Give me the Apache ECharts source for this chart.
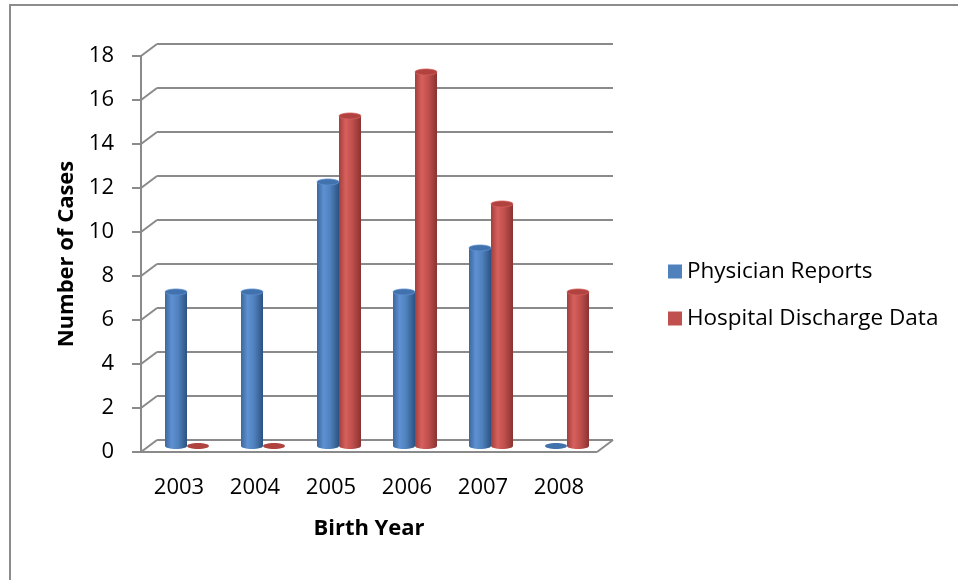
<!DOCTYPE html>
<html>
<head>
<meta charset="utf-8">
<script src="https://cdn.jsdelivr.net/npm/echarts@6/dist/echarts.min.js"></script>
<style>
  html, body { margin: 0; padding: 0; background: #ffffff; }
  #chart { width: 958px; height: 580px; }
</style>
</head>
<body>
<div id="chart"></div>
<script>
// Birth years on the category axis
const years = ['2003', '2004', '2005', '2006', '2007', '2008'];
// Number of cases per source
const physicianReports = [7, 7, 12, 7, 9, 0];
const hospitalDischarge = [0, 0, 15, 17, 11, 7];
// Value axis ticks
const yTicks = [0, 2, 4, 6, 8, 10, 12, 14, 16, 18];

const FONT = '"Open Sans", "Noto Sans", sans-serif';
const GRID_COLOR = '#8a8a8a';
// Depth of the 3D box: offset from the front plane to the back wall
const DX = 16, DY = -12;
const BAR_W = 22;

function cylinder(params, api, side, palette) {
  const i = api.value(0);
  const v = api.value(1);
  const base = api.coord([i, 0]);
  const top = api.coord([i, v]);
  const cx = base[0] + DX / 2 + side * BAR_W / 2;
  const yb = base[1] + DY / 2;
  const yt = top[1] + DY / 2;
  const rx = BAR_W / 2, ry = 3;
  const children = [];
  if (v === 0) {
    children.push({
      type: 'ellipse',
      shape: { cx: cx, cy: yb, rx: rx, ry: ry },
      style: { fill: palette.cap }
    });
  } else {
    const grad = new echarts.graphic.LinearGradient(0, 0, 1, 0, [
      { offset: 0, color: palette.edge },
      { offset: 0.3, color: palette.light },
      { offset: 0.6, color: palette.mid },
      { offset: 1, color: palette.dark }
    ]);
    children.push({
      type: 'ellipse',
      shape: { cx: cx, cy: yb, rx: rx, ry: ry },
      style: { fill: grad }
    });
    children.push({
      type: 'rect',
      shape: { x: cx - rx, y: yt, width: BAR_W, height: yb - yt },
      style: { fill: grad }
    });
    children.push({
      type: 'ellipse',
      shape: { cx: cx, cy: yt, rx: rx, ry: ry },
      style: { fill: palette.cap, stroke: palette.light, lineWidth: 0.8 }
    });
  }
  return { type: 'group', children: children };
}

const bluePalette = { edge: '#3b679e', light: '#5e91d2', mid: '#4f81bd', dark: '#2c5282', cap: '#4272ad' };
const redPalette = { edge: '#a23e3b', light: '#d6605c', mid: '#c0504d', dark: '#8a3331', cap: '#b0433f' };

const chart = echarts.init(document.getElementById('chart'), null, { renderer: 'canvas' });

chart.setOption({
  backgroundColor: '#ffffff',
  animation: false,
  textStyle: { fontFamily: FONT },
  graphic: [{
    type: 'rect',
    shape: { x: 10, y: 5, width: 1000, height: 1000 },
    style: { fill: 'none', stroke: '#8c8c8c', lineWidth: 2 },
    silent: true
  }],
  legend: {
    orient: 'vertical',
    left: 663,
    top: 255,
    itemWidth: 14,
    itemHeight: 14,
    itemGap: 24,
    icon: 'rect',
    data: ['Physician Reports', 'Hospital Discharge Data'],
    textStyle: { fontFamily: FONT, fontSize: 22.5, color: '#000000', lineHeight: 22, padding: [0, 0, 0, 0] }
  },
  grid: { left: 141, top: 56, width: 456, height: 396, containLabel: false },
  xAxis: {
    type: 'category',
    data: years,
    name: 'Birth Year',
    nameLocation: 'middle',
    nameGap: 66,
    nameTextStyle: { fontFamily: FONT, fontSize: 22, fontWeight: 'bold', color: '#000000' },
    axisLine: { show: false },
    axisTick: { show: false },
    axisLabel: { margin: 25, fontFamily: FONT, fontSize: 22, color: '#000000' },
    splitLine: { show: false }
  },
  yAxis: {
    type: 'value',
    min: 0,
    max: 18,
    interval: 2,
    name: 'Number of Cases',
    nameLocation: 'middle',
    nameRotate: 90,
    nameGap: 63,
    nameTextStyle: { fontFamily: FONT, fontSize: 22, fontWeight: 'bold', color: '#000000' },
    axisLine: { show: true, lineStyle: { color: GRID_COLOR, width: 2 } },
    axisTick: { show: true, length: 9, lineStyle: { color: GRID_COLOR, width: 2 } },
    axisLabel: { margin: 27, fontFamily: FONT, fontSize: 22, color: '#000000', padding: [5, 0, 0, 0] },
    splitLine: { show: false }
  },
  series: [
    {
      // Back wall gridlines, depth diagonals and floor outline
      type: 'custom',
      name: 'frame',
      silent: true,
      clip: false,
      z: 1,
      data: yTicks.map(v => [0, v]),
      encode: { x: 0, y: 1 },
      renderItem: function (params, api) {
        const cs = params.coordSys;
        const L = cs.x, R = cs.x + cs.width;
        const y = api.coord([0, api.value(1)])[1];
        const style = { stroke: GRID_COLOR, lineWidth: 2 };
        const children = [
          { type: 'line', shape: { x1: L + DX, y1: y + DY, x2: R + DX, y2: y + DY }, style: style },
          { type: 'line', shape: { x1: L, y1: y, x2: L + DX, y2: y + DY }, style: style }
        ];
        if (api.value(1) === 0) {
          children.push({ type: 'line', shape: { x1: L, y1: y, x2: R, y2: y }, style: style });
          children.push({ type: 'line', shape: { x1: R, y1: y, x2: R + DX, y2: y + DY }, style: style });
        }
        return { type: 'group', children: children };
      }
    },
    {
      type: 'custom',
      name: 'Physician Reports',
      clip: false,
      z: 3,
      itemStyle: { color: '#4f81bd' },
      data: physicianReports.map((v, i) => [i, v]),
      encode: { x: 0, y: 1 },
      renderItem: function (params, api) { return cylinder(params, api, -1, bluePalette); }
    },
    {
      type: 'custom',
      name: 'Hospital Discharge Data',
      clip: false,
      z: 3,
      itemStyle: { color: '#c0504d' },
      data: hospitalDischarge.map((v, i) => [i, v]),
      encode: { x: 0, y: 1 },
      renderItem: function (params, api) { return cylinder(params, api, 1, redPalette); }
    }
  ]
});
</script>
</body>
</html>
